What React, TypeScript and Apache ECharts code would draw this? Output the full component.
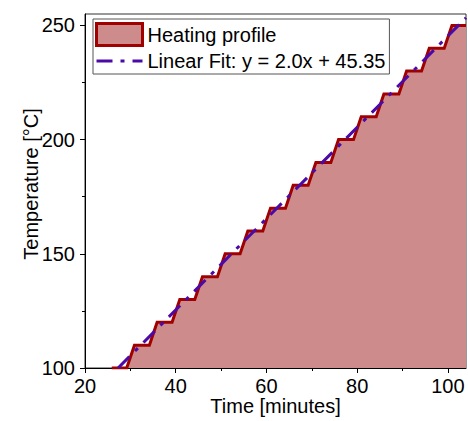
import React, { useEffect, useRef } from "react";
import * as echarts from "echarts";

// Heating profile (time in minutes, temperature in °C)
const profileTime = [
  25.9, 29.2, 30.9, 34.2, 35.9, 39.2, 40.9, 44.2, 45.9, 49.2, 50.9, 54.2, 55.9, 59.2, 60.9, 64.2,
  65.9, 69.2, 70.9, 74.2, 75.9, 79.2, 80.9, 84.2, 85.9, 89.2, 90.9, 94.2, 95.9, 99.2, 100.9, 104,
];
const profileTemp = [
  100, 100, 110, 110, 120, 120, 130, 130, 140, 140, 150, 150, 160, 160, 170, 170,
  180, 180, 190, 190, 200, 200, 210, 210, 220, 220, 230, 230, 240, 240, 250, 250,
];

// Linear fit endpoints
const fitTime = [27.3, 104];
const fitTemp = [100, 253.35];

// Ticks
const xMajor = [20, 40, 60, 80, 100];
const xMinor = [30, 50, 70, 90];
const yMajor = [100, 150, 200, 250];
const yMinor = [125, 175, 225];

const profileName = "Heating profile";
const fitName = "Linear Fit: y = 2.0x + 45.35";

const FONT = "'Liberation Sans', Arial, Helvetica, sans-serif";
const RED = "#A00000";
const FILL = "#CD8B8B";
const PURPLE = "#4B0AA8";

export default function App() {
  const ref = useRef<HTMLDivElement>(null);
  useEffect(() => {
    if (!ref.current) return;
    const chart = echarts.init(ref.current, null, { renderer: "svg" });
    const profileData = profileTime.map((t, i) => [t, profileTemp[i]]);
    const fitData = fitTime.map((t, i) => [t, fitTemp[i]]);
    const axisCommon = {
      splitLine: { show: false },
    };
    const option: any = {
      animation: false,
      textStyle: { fontFamily: FONT },
      grid: {
        left: 85,
        right: 2,
        top: 14,
        bottom: 53,
        show: true,
        borderColor: "#333",
        borderWidth: 1,
        containLabel: false,
        outerBoundsMode: "none",
      },
      legend: {
        orient: "vertical",
        left: 93,
        top: 19,
        padding: [3, 4, 3, 2],
        itemWidth: 46,
        itemHeight: 22,
        itemGap: 4,
        backgroundColor: "#fff",
        borderColor: "#555",
        borderWidth: 1,
        borderRadius: 0,
        textStyle: { fontSize: 20, color: "#000", fontFamily: FONT },
        data: [
          {
            name: profileName,
            icon: "rect",
            itemStyle: { color: FILL, borderColor: RED, borderWidth: 3 },
          },
          {
            name: fitName,
            itemStyle: { opacity: 0 },
            lineStyle: { color: PURPLE, width: 3, type: [16, 8, 4, 8] },
          },
        ],
      },
      xAxis: [
        {
          ...axisCommon,
          type: "value",
          min: 20,
          max: 104,
          name: "Time [minutes]",
          nameLocation: "middle",
          nameGap: 30,
          nameMoveOverlap: false,
          nameTextStyle: { fontSize: 20, lineHeight: 16, color: "#000", fontFamily: FONT },
          axisLine: { show: true, onZero: false, lineStyle: { color: "#000", width: 1 } },
          axisTick: { show: true, inside: false, length: 5, customValues: xMajor, lineStyle: { color: "#000" } },
          axisLabel: { customValues: xMajor, fontSize: 20, lineHeight: 18, color: "#000", margin: 9, fontFamily: FONT },
        },
        {
          ...axisCommon,
          type: "value",
          min: 20,
          max: 104,
          position: "bottom",
          axisLine: { show: false, onZero: false },
          axisTick: { show: true, inside: false, length: 3, customValues: xMinor, lineStyle: { color: "#000" } },
          axisLabel: { show: false },
        },
      ],
      yAxis: [
        {
          ...axisCommon,
          type: "value",
          min: 100,
          max: 255,
          name: "Temperature [°C]",
          nameLocation: "middle",
          nameGap: 44,
          nameMoveOverlap: false,
          nameTextStyle: { fontSize: 20, color: "#000", fontFamily: FONT, padding: [0, 0, 0, 14] },
          axisLine: { show: true, onZero: false, lineStyle: { color: "#000", width: 1 } },
          axisTick: { show: true, inside: false, length: 5, customValues: yMajor, lineStyle: { color: "#000" } },
          axisLabel: { customValues: yMajor, fontSize: 20, color: "#000", margin: 10, fontFamily: FONT },
        },
        {
          ...axisCommon,
          type: "value",
          min: 100,
          max: 255,
          position: "left",
          axisLine: { show: false, onZero: false },
          axisTick: { show: true, inside: false, length: 3, customValues: yMinor, lineStyle: { color: "#000" } },
          axisLabel: { show: false },
        },
      ],
      series: [
        {
          name: profileName,
          type: "line",
          data: profileData,
          symbol: "none",
          showSymbol: false,
          lineStyle: { color: RED, width: 3, join: "miter" },
          itemStyle: { color: RED },
          areaStyle: { color: FILL, opacity: 1, origin: "start" },
          z: 2,
        },
        {
          name: fitName,
          type: "line",
          data: fitData,
          symbol: "none",
          showSymbol: false,
          lineStyle: { color: PURPLE, width: 3, type: [16, 8, 4, 8] },
          itemStyle: { color: PURPLE },
          z: 3,
        },
      ],
    };
    chart.setOption(option);
    return () => chart.dispose();
  }, []);
  return (
    <div
      ref={ref}
      style={{ position: "absolute", left: 0, top: 0, width: 468, height: 421 }}
    />
  );
}
